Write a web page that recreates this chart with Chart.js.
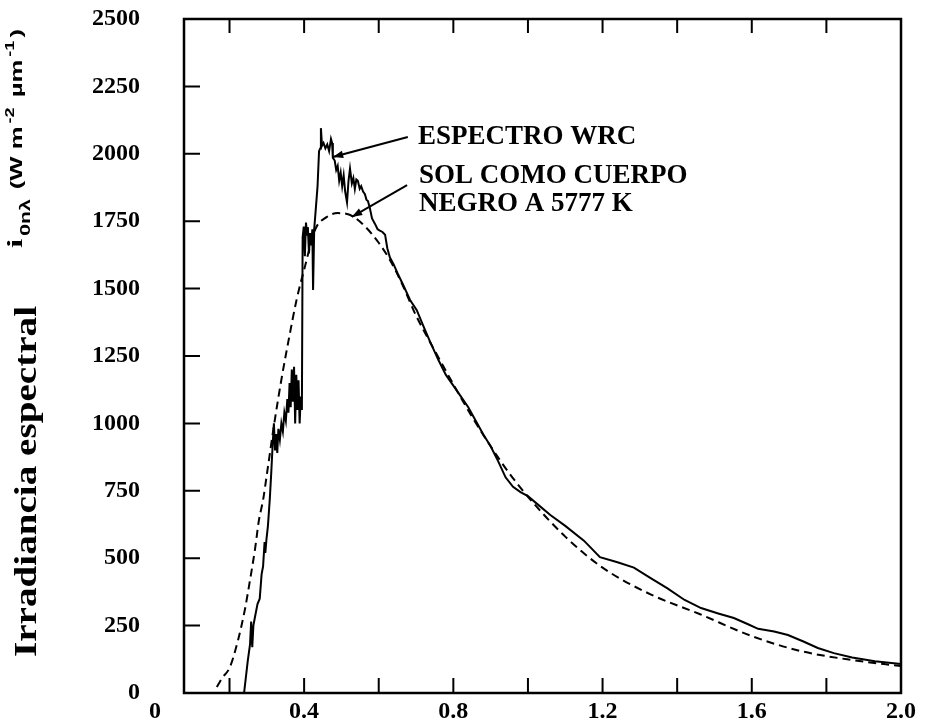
<!DOCTYPE html>
<html>
<head>
<meta charset="utf-8">
<script src="https://cdn.jsdelivr.net/npm/chart.js@4.4.0/dist/chart.umd.min.js"></script>
<style>
  html, body { margin: 0; padding: 0; background: #fff; }
  #wrap { width: 930px; height: 726px; }
</style>
</head>
<body>
<div id="wrap"><canvas id="espectro"></canvas></div>
<script>
// Espectro WRC (longitud de onda en µm, irradiancia en W m-2 µm-1)
const wrcX = [0.239, 0.249, 0.255, 0.258, 0.261, 0.264, 0.268, 0.275, 0.281, 0.286, 0.290, 0.294, 0.296, 0.299,
  0.303, 0.308, 0.312, 0.316, 0.319, 0.322, 0.325, 0.328, 0.331, 0.335, 0.339, 0.343, 0.347, 0.351, 0.355,
  0.358, 0.361, 0.364, 0.367, 0.370, 0.373, 0.376, 0.379, 0.382, 0.385, 0.388, 0.391, 0.394, 0.396, 0.399,
  0.402, 0.405, 0.408, 0.410, 0.413, 0.416, 0.419, 0.422, 0.424, 0.427, 0.431, 0.436, 0.440, 0.443, 0.445,
  0.448, 0.452, 0.457, 0.462, 0.467, 0.472, 0.475, 0.477, 0.482, 0.486, 0.490, 0.494, 0.498, 0.502, 0.506,
  0.510, 0.515, 0.519, 0.523, 0.528, 0.532, 0.536, 0.540, 0.544, 0.549, 0.553, 0.558, 0.563, 0.567, 0.571,
  0.576, 0.582, 0.590, 0.597, 0.603, 0.610, 0.617, 0.623, 0.630, 0.640, 0.651, 0.665, 0.684, 0.702, 0.720,
  0.737, 0.76, 0.78, 0.80, 0.82, 0.84, 0.86, 0.88, 0.90, 0.92, 0.94, 0.96, 0.98, 1.00, 1.03, 1.06, 1.10,
  1.15, 1.193, 1.24, 1.284, 1.33, 1.373, 1.42, 1.464, 1.51, 1.552, 1.59, 1.617, 1.66, 1.697, 1.74, 1.777,
  1.82, 1.869, 1.93, 2.0];
const wrcY = [0, 120, 180, 265, 170, 250, 280, 330, 350, 440, 470, 560, 520, 570,
  620, 720, 820, 930, 1000, 900, 960, 890, 980, 940, 1000, 970, 1040, 1010, 1090,
  1040, 1150, 1060, 1200, 1080, 1210, 1000, 1180, 1050, 1160, 1000, 1100, 1050, 1690, 1730,
  1620, 1745, 1700, 1728, 1630, 1706, 1660, 1720, 1495, 1720, 1790, 1880, 2010, 2020, 2095,
  2030, 2040, 2020, 2035, 2010, 2055, 2040, 1985, 1975, 1940, 1955, 1900, 1930, 1880, 1920,
  1860, 1820, 1900, 1945, 1890, 1910, 1870, 1905, 1900, 1870, 1880, 1860, 1850, 1830, 1825,
  1800, 1760, 1740, 1720, 1715, 1710, 1700, 1650, 1615, 1590, 1555, 1515, 1458, 1420, 1360,
  1305, 1235, 1180, 1140, 1100, 1060, 1010, 960, 915, 860, 800, 765, 745, 730, 695, 660, 620,
  565, 504, 485, 465, 425, 389, 345, 315, 295, 278, 255, 238, 228, 215, 190, 167,
  148, 132, 118, 108];

// Sol como cuerpo negro a 5777 K
const bbX = [0.166, 0.18, 0.201, 0.223, 0.241, 0.255, 0.268, 0.279, 0.29, 0.30, 0.32, 0.34, 0.36, 0.38,
  0.40, 0.43, 0.46, 0.49, 0.52, 0.56, 0.60, 0.63, 0.66, 0.70, 0.75, 0.80, 0.85, 0.90, 0.95, 1.00,
  1.10, 1.20, 1.33, 1.46, 1.60, 1.73, 1.87, 2.00];
const bbY = [22, 55, 96, 197, 308, 419, 530, 642, 716, 810, 1000, 1170, 1320, 1460,
  1570, 1720, 1765, 1780, 1775, 1735, 1670, 1606, 1525, 1400, 1270, 1145, 1025, 915, 815, 728,
  580, 465, 365, 293, 211, 156, 122, 100];

const xTicks = [0, 0.2, 0.4, 0.6, 0.8, 1.0, 1.2, 1.4, 1.6, 1.8, 2.0];
const xTickLabels = ['0', '', '0.4', '', '0.8', '', '1.2', '', '1.6', '', '2.0'];
const yTicks = [0, 250, 500, 750, 1000, 1250, 1500, 1750, 2000, 2250, 2500];

const serifBold = { family: '"Liberation Serif", "Times New Roman", serif', weight: 'bold', size: 24 };

// marco, marcas interiores de los ejes, título del eje y y rótulos con flecha
const decorPlugin = {
  id: 'decor',
  afterDraw(chart) {
    const { ctx, chartArea: a, scales: { x, y } } = chart;
    ctx.save();
    ctx.strokeStyle = '#000';
    ctx.fillStyle = '#000';

    ctx.lineWidth = 2.5;
    ctx.strokeRect(a.left, a.top, a.right - a.left, a.bottom - a.top);

    ctx.lineWidth = 2;
    ctx.beginPath();
    xTicks.forEach(v => {
      if (v <= x.min || v >= x.max) return;
      const px = x.getPixelForValue(v);
      ctx.moveTo(px, a.bottom); ctx.lineTo(px, a.bottom - 15);
      ctx.moveTo(px, a.top); ctx.lineTo(px, a.top + 14);
    });
    yTicks.forEach(v => {
      if (v <= y.min || v >= y.max) return;
      const py = y.getPixelForValue(v);
      ctx.moveTo(a.left, py); ctx.lineTo(a.left + 16, py);
    });
    ctx.stroke();

    // Irradiancia espectral
    ctx.save();
    ctx.translate(36, 657);
    ctx.rotate(-Math.PI / 2);
    ctx.font = 'bold 32px "Liberation Serif", serif';
    ctx.textBaseline = 'alphabetic';
    const tw = ctx.measureText('Irradiancia espectral').width;
    ctx.scale(351 / tw, 1);
    ctx.fillText('Irradiancia espectral', 0, 0);
    ctx.restore();

    // i0nλ (W m-2 µm-1)
    const parts = [
      { t: 'i', font: 'bold 22px "Liberation Serif", serif', dy: 0 },
      { t: '0nλ', font: 'bold 14px "Liberation Sans", sans-serif', dy: 8 },
      { t: ' (W m', font: 'bold 17px "Liberation Sans", sans-serif', dy: 0 },
      { t: '-2', font: 'bold 12px "Liberation Sans", sans-serif', dy: -8 },
      { t: ' µm', font: 'bold 17px "Liberation Sans", sans-serif', dy: 0 },
      { t: '-1', font: 'bold 12px "Liberation Sans", sans-serif', dy: -8 },
      { t: ')', font: 'bold 17px "Liberation Sans", sans-serif', dy: 0 }
    ];
    let total = 0;
    parts.forEach(p => { ctx.font = p.font; p.w = ctx.measureText(p.t).width + 2; total += p.w; });
    ctx.save();
    ctx.translate(22, 248);
    ctx.rotate(-Math.PI / 2);
    ctx.scale(222 / total, 1);
    let cx = 0;
    parts.forEach(p => { ctx.font = p.font; ctx.fillText(p.t, cx, p.dy); cx += p.w; });
    ctx.restore();

    // rótulos de las curvas
    ctx.font = 'bold 27px "Liberation Serif", serif';
    ctx.textBaseline = 'middle';
    ctx.textAlign = 'left';
    const notes = [
      { lines: ['ESPECTRO WRC'], x: 0.705, y: 2062, from: [0.678, 2062], tip: [0.477, 1988] },
      { lines: ['SOL COMO CUERPO', 'NEGRO A 5777 K'], x: 0.708, y: 1918, from: [0.676, 1884], tip: [0.528, 1766] }
    ];
    notes.forEach(n => {
      const tx = x.getPixelForValue(n.x);
      let ty = y.getPixelForValue(n.y);
      n.lines.forEach(l => { ctx.fillText(l, tx, ty); ty += 28; });
      const fx = x.getPixelForValue(n.from[0]), fy = y.getPixelForValue(n.from[1]);
      const hx = x.getPixelForValue(n.tip[0]), hy = y.getPixelForValue(n.tip[1]);
      ctx.lineWidth = 2;
      ctx.beginPath(); ctx.moveTo(fx, fy); ctx.lineTo(hx, hy); ctx.stroke();
      const ang = Math.atan2(hy - fy, hx - fx);
      ctx.beginPath();
      ctx.moveTo(hx, hy);
      ctx.lineTo(hx - 11 * Math.cos(ang - 0.35), hy - 11 * Math.sin(ang - 0.35));
      ctx.lineTo(hx - 11 * Math.cos(ang + 0.35), hy - 11 * Math.sin(ang + 0.35));
      ctx.closePath();
      ctx.fill();
    });
    ctx.restore();
  }
};

new Chart(document.getElementById('espectro'), {
  type: 'scatter',
  data: {
    datasets: [{
      label: 'Sol como cuerpo negro a 5777 K',
      data: bbX.map((v, i) => ({ x: v, y: bbY[i] })),
      showLine: true,
      borderColor: '#000',
      borderWidth: 2,
      borderDash: [8, 5],
      pointRadius: 0,
      cubicInterpolationMode: 'monotone'
    },
    {
      label: 'Espectro WRC',
      data: wrcX.map((v, i) => ({ x: v, y: wrcY[i] })),
      showLine: true,
      borderColor: '#000',
      borderWidth: 2,
      pointRadius: 0,
      tension: 0
    }]
  },
  options: {
    responsive: true,
    maintainAspectRatio: false,
    animation: false,
    devicePixelRatio: 1,
    layout: { padding: { top: 19, right: 29, left: 0, bottom: 0 } },
    plugins: {
      legend: { display: false },
      tooltip: { enabled: false }
    },
    scales: {
      x: {
        type: 'linear',
        min: 0.078,
        max: 2.0,
        afterBuildTicks: scale => { scale.ticks = xTicks.map(v => ({ value: v })); },
        afterFit: scale => { scale.height = 33; scale.paddingLeft = 0; scale.paddingRight = 0; },
        grid: { display: false, drawTicks: false },
        border: { display: false },
        ticks: {
          autoSkip: false,
          maxRotation: 0,
          padding: 4,
          color: '#000',
          font: serifBold,
          callback: (value, index) => xTickLabels[index]
        }
      },
      y: {
        min: 0,
        max: 2500,
        afterBuildTicks: scale => { scale.ticks = yTicks.map(v => ({ value: v })); },
        afterFit: scale => { scale.width = 184; scale.paddingTop = 0; scale.paddingBottom = 0; },
        grid: { display: false, drawTicks: false },
        border: { display: false },
        ticks: {
          autoSkip: false,
          padding: 44,
          color: '#000',
          font: serifBold,
          callback: value => String(value)
        }
      }
    }
  },
  plugins: [decorPlugin]
});
</script>
</body>
</html>
